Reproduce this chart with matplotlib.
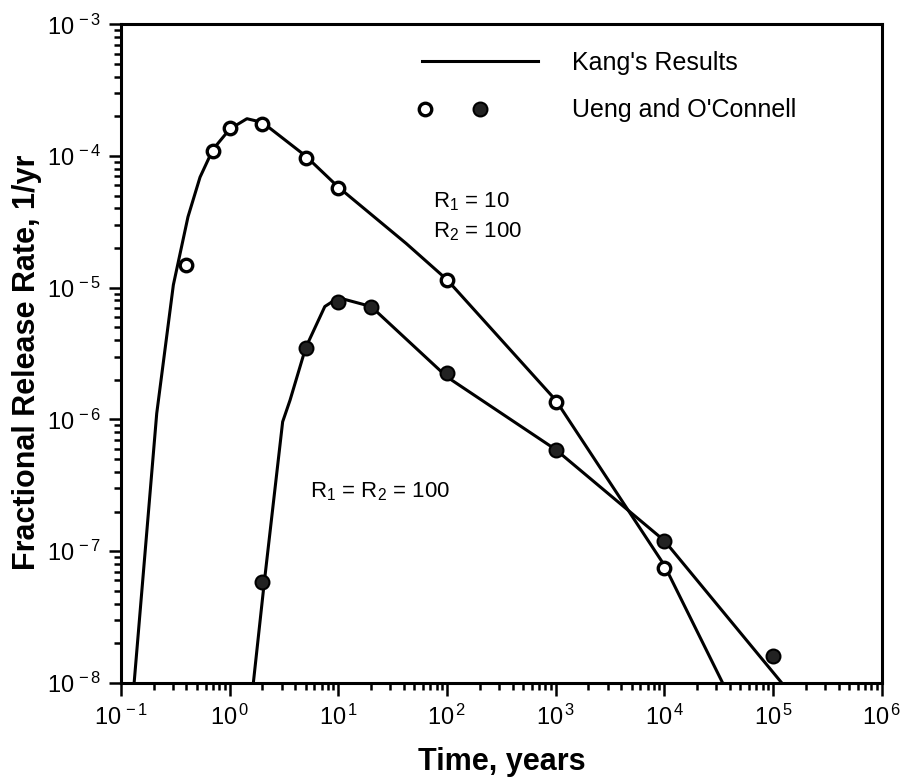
import matplotlib
matplotlib.use("Agg")
import matplotlib.pyplot as plt
from matplotlib.lines import Line2D
from matplotlib.legend_handler import HandlerTuple
from matplotlib.ticker import FixedLocator, FixedFormatter, LogLocator, NullFormatter

plt.rcParams['font.family'] = ['Liberation Sans', 'DejaVu Sans']
plt.rcParams['mathtext.fontset'] = 'custom'
plt.rcParams['mathtext.rm'] = 'Liberation Sans'
plt.rcParams['mathtext.it'] = 'Liberation Sans'
plt.rcParams['mathtext.default'] = 'regular'

# Ueng and O'Connell points, R1 = 10, R2 = 100 (open circles)
open_t = [0.4, 0.7, 1.0, 2.0, 5.0, 10, 100, 1000, 1e4]
open_r = [1.5e-5, 1.1e-4, 1.62e-4, 1.76e-4, 9.7e-5, 5.7e-5, 1.14e-5, 1.36e-6, 7.5e-8]

# Ueng and O'Connell points, R1 = R2 = 100 (filled circles)
filled_t = [2, 5, 10, 20, 100, 1000, 1e4, 1e5]
filled_r = [5.8e-8, 3.46e-6, 7.8e-6, 7.2e-6, 2.24e-6, 5.9e-7, 1.19e-7, 1.6e-8]

# Kang's results, R1 = 10, R2 = 100
kang1_t = [0.132, 0.213, 0.303, 0.413, 0.533, 0.7, 1.0, 1.44, 2.0, 5, 10, 42, 100, 1000, 1e4, 3.43e4]
kang1_r = [1e-8, 1.11e-6, 1.05e-5, 3.45e-5, 6.9e-5, 1.12e-4, 1.6e-4, 1.92e-4, 1.8e-4,
           1.0e-4, 5.8e-5, 2.17e-5, 1.15e-5, 1.4e-6, 7.8e-8, 1e-8]

# Kang's results, R1 = R2 = 100
kang2_t = [1.65, 2.08, 3.07, 3.59, 5, 7.5, 10, 20, 100, 1000, 1e4, 1.2e5]
kang2_r = [1e-8, 5.8e-8, 9.6e-7, 1.4e-6, 3.5e-6, 7.2e-6, 8.4e-6, 7.2e-6, 2.1e-6, 5.9e-7, 1.2e-7, 1e-8]

x_ticks = [1e-1, 1e0, 1e1, 1e2, 1e3, 1e4, 1e5, 1e6]
x_labels = [r'10$^{\,-1}$', r'10$^{\,0}$', r'10$^{\,1}$', r'10$^{\,2}$',
            r'10$^{\,3}$', r'10$^{\,4}$', r'10$^{\,5}$', r'10$^{\,6}$']
y_ticks = [1e-8, 1e-7, 1e-6, 1e-5, 1e-4, 1e-3]
y_labels = [r'10$^{\,-8}$', r'10$^{\,-7}$', r'10$^{\,-6}$', r'10$^{\,-5}$',
            r'10$^{\,-4}$', r'10$^{\,-3}$']

fig = plt.figure(figsize=(9.1, 7.84), dpi=100)
ax = fig.add_axes([0.133, 0.129, 0.836, 0.840])

ax.plot(kang1_t, kang1_r, color='black', lw=2.2, solid_joinstyle='round')
ax.plot(kang2_t, kang2_r, color='black', lw=2.2, solid_joinstyle='round')
ax.plot(open_t, open_r, 'o', ms=9, mfc='white', mec='black', mew=2.4, zorder=3)
ax.plot(filled_t, filled_r, 'o', ms=10, mfc='#222222', mec='black', mew=1.5, zorder=3)

ax.set_xscale('log')
ax.set_yscale('log')
ax.set_xlim(1e-1, 1e6)
ax.set_ylim(1e-8, 1e-3)

ax.xaxis.set_major_locator(FixedLocator(x_ticks))
ax.xaxis.set_major_formatter(FixedFormatter(x_labels))
ax.yaxis.set_major_locator(FixedLocator(y_ticks))
ax.yaxis.set_major_formatter(FixedFormatter(y_labels))
ax.xaxis.set_minor_locator(LogLocator(base=10, subs=range(2, 10), numticks=20))
ax.yaxis.set_minor_locator(LogLocator(base=10, subs=range(2, 10), numticks=20))
ax.xaxis.set_minor_formatter(NullFormatter())
ax.yaxis.set_minor_formatter(NullFormatter())

ax.tick_params(which='both', direction='out', top=False, right=False, width=1.8)
ax.tick_params(which='major', length=9, labelsize=17)
ax.tick_params(axis='x', which='major', pad=7)
ax.tick_params(axis='y', which='major', pad=5)
ax.tick_params(which='minor', length=5)
for s in ax.spines.values():
    s.set_linewidth(2.2)

ax.set_xlabel('Time, years', fontsize=22, fontweight='bold')
ax.set_ylabel('Fractional Release Rate, 1/yr', fontsize=22, fontweight='bold')
ax.xaxis.set_label_coords(0.5, -0.097)
ax.yaxis.set_label_coords(-0.104, 0.487)

ax.text(74, 4.09e-5, r'R$_1$ = 10', fontsize=16)
ax.text(74, 2.42e-5, r'R$_2$ = 100', fontsize=16)
ax.text(5.48, 2.58e-7, r'R$_1$ = R$_2$ = 100', fontsize=16)

h_line = Line2D([], [], color='black', lw=2.2)
h_open = Line2D([], [], ls='none', marker='o', ms=9, mfc='white', mec='black', mew=2.4)
h_fill = Line2D([], [], ls='none', marker='o', ms=10, mfc='#222222', mec='black', mew=1.5)
ax.legend([h_line, (h_open, h_fill)], ["Kang's Results", "Ueng and O'Connell"],
          handler_map={tuple: HandlerTuple(ndivide=3, pad=1.96)},
          loc='upper left', bbox_to_anchor=(0.3955, 0.96), frameon=False,
          fontsize=18, handlelength=4.64, handletextpad=1.36, labelspacing=0.95,
          borderpad=0, borderaxespad=0)

fig.savefig('out.png', dpi=100)
